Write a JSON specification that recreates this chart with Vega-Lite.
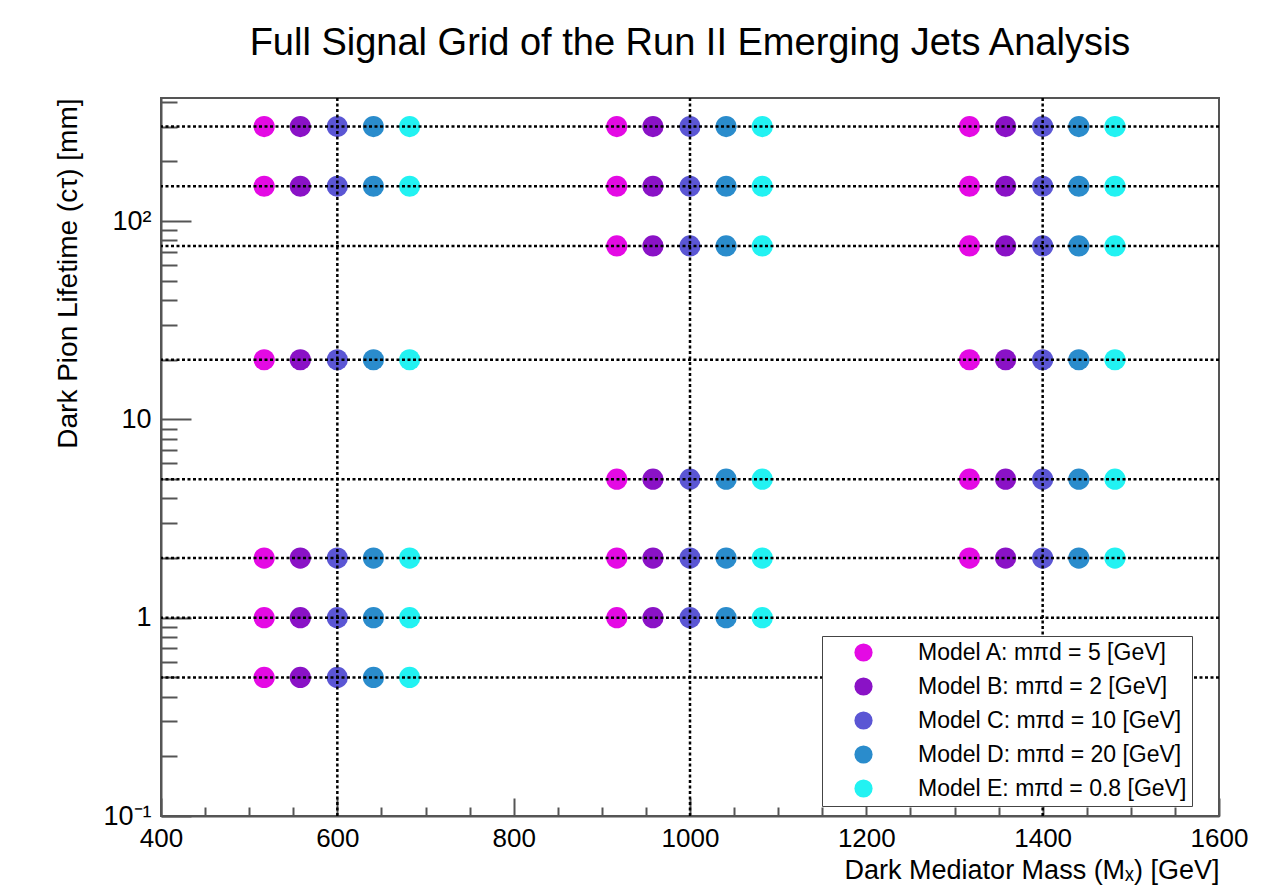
{
  "$schema": "https://vega.github.io/schema/vega-lite/v6.json",
  "width": 1058,
  "height": 718,
  "autosize": {"type": "none"},
  "padding": {"left": 161, "top": 98, "right": 46, "bottom": 80},
  "background": "white",
  "config": {
    "font": "Liberation Sans",
    "view": {"stroke": "#555555", "strokeWidth": 2},
    "title": {"font": "Liberation Sans", "fontSize": 38, "fontWeight": "normal", "color": "black", "anchor": "middle", "frame": "group", "offset": 25}
  },
  "title": "Full Signal Grid of the Run II Emerging Jets Analysis",
  "datasets": {
    "points": [
      {"model": "Model A: mπd = 5 [GeV]", "mass": 517, "ctau": 300},
      {"model": "Model B: mπd = 2 [GeV]", "mass": 558, "ctau": 300},
      {"model": "Model C: mπd = 10 [GeV]", "mass": 600, "ctau": 300},
      {"model": "Model D: mπd = 20 [GeV]", "mass": 641, "ctau": 300},
      {"model": "Model E: mπd = 0.8 [GeV]", "mass": 682, "ctau": 300},
      {"model": "Model A: mπd = 5 [GeV]", "mass": 517, "ctau": 150},
      {"model": "Model B: mπd = 2 [GeV]", "mass": 558, "ctau": 150},
      {"model": "Model C: mπd = 10 [GeV]", "mass": 600, "ctau": 150},
      {"model": "Model D: mπd = 20 [GeV]", "mass": 641, "ctau": 150},
      {"model": "Model E: mπd = 0.8 [GeV]", "mass": 682, "ctau": 150},
      {"model": "Model A: mπd = 5 [GeV]", "mass": 517, "ctau": 20},
      {"model": "Model B: mπd = 2 [GeV]", "mass": 558, "ctau": 20},
      {"model": "Model C: mπd = 10 [GeV]", "mass": 600, "ctau": 20},
      {"model": "Model D: mπd = 20 [GeV]", "mass": 641, "ctau": 20},
      {"model": "Model E: mπd = 0.8 [GeV]", "mass": 682, "ctau": 20},
      {"model": "Model A: mπd = 5 [GeV]", "mass": 517, "ctau": 2},
      {"model": "Model B: mπd = 2 [GeV]", "mass": 558, "ctau": 2},
      {"model": "Model C: mπd = 10 [GeV]", "mass": 600, "ctau": 2},
      {"model": "Model D: mπd = 20 [GeV]", "mass": 641, "ctau": 2},
      {"model": "Model E: mπd = 0.8 [GeV]", "mass": 682, "ctau": 2},
      {"model": "Model A: mπd = 5 [GeV]", "mass": 517, "ctau": 1},
      {"model": "Model B: mπd = 2 [GeV]", "mass": 558, "ctau": 1},
      {"model": "Model C: mπd = 10 [GeV]", "mass": 600, "ctau": 1},
      {"model": "Model D: mπd = 20 [GeV]", "mass": 641, "ctau": 1},
      {"model": "Model E: mπd = 0.8 [GeV]", "mass": 682, "ctau": 1},
      {"model": "Model A: mπd = 5 [GeV]", "mass": 517, "ctau": 0.5},
      {"model": "Model B: mπd = 2 [GeV]", "mass": 558, "ctau": 0.5},
      {"model": "Model C: mπd = 10 [GeV]", "mass": 600, "ctau": 0.5},
      {"model": "Model D: mπd = 20 [GeV]", "mass": 641, "ctau": 0.5},
      {"model": "Model E: mπd = 0.8 [GeV]", "mass": 682, "ctau": 0.5},
      {"model": "Model A: mπd = 5 [GeV]", "mass": 917, "ctau": 300},
      {"model": "Model B: mπd = 2 [GeV]", "mass": 958, "ctau": 300},
      {"model": "Model C: mπd = 10 [GeV]", "mass": 1000, "ctau": 300},
      {"model": "Model D: mπd = 20 [GeV]", "mass": 1041, "ctau": 300},
      {"model": "Model E: mπd = 0.8 [GeV]", "mass": 1082, "ctau": 300},
      {"model": "Model A: mπd = 5 [GeV]", "mass": 917, "ctau": 150},
      {"model": "Model B: mπd = 2 [GeV]", "mass": 958, "ctau": 150},
      {"model": "Model C: mπd = 10 [GeV]", "mass": 1000, "ctau": 150},
      {"model": "Model D: mπd = 20 [GeV]", "mass": 1041, "ctau": 150},
      {"model": "Model E: mπd = 0.8 [GeV]", "mass": 1082, "ctau": 150},
      {"model": "Model A: mπd = 5 [GeV]", "mass": 917, "ctau": 75},
      {"model": "Model B: mπd = 2 [GeV]", "mass": 958, "ctau": 75},
      {"model": "Model C: mπd = 10 [GeV]", "mass": 1000, "ctau": 75},
      {"model": "Model D: mπd = 20 [GeV]", "mass": 1041, "ctau": 75},
      {"model": "Model E: mπd = 0.8 [GeV]", "mass": 1082, "ctau": 75},
      {"model": "Model A: mπd = 5 [GeV]", "mass": 917, "ctau": 5},
      {"model": "Model B: mπd = 2 [GeV]", "mass": 958, "ctau": 5},
      {"model": "Model C: mπd = 10 [GeV]", "mass": 1000, "ctau": 5},
      {"model": "Model D: mπd = 20 [GeV]", "mass": 1041, "ctau": 5},
      {"model": "Model E: mπd = 0.8 [GeV]", "mass": 1082, "ctau": 5},
      {"model": "Model A: mπd = 5 [GeV]", "mass": 917, "ctau": 2},
      {"model": "Model B: mπd = 2 [GeV]", "mass": 958, "ctau": 2},
      {"model": "Model C: mπd = 10 [GeV]", "mass": 1000, "ctau": 2},
      {"model": "Model D: mπd = 20 [GeV]", "mass": 1041, "ctau": 2},
      {"model": "Model E: mπd = 0.8 [GeV]", "mass": 1082, "ctau": 2},
      {"model": "Model A: mπd = 5 [GeV]", "mass": 917, "ctau": 1},
      {"model": "Model B: mπd = 2 [GeV]", "mass": 958, "ctau": 1},
      {"model": "Model C: mπd = 10 [GeV]", "mass": 1000, "ctau": 1},
      {"model": "Model D: mπd = 20 [GeV]", "mass": 1041, "ctau": 1},
      {"model": "Model E: mπd = 0.8 [GeV]", "mass": 1082, "ctau": 1},
      {"model": "Model A: mπd = 5 [GeV]", "mass": 1317, "ctau": 300},
      {"model": "Model B: mπd = 2 [GeV]", "mass": 1358, "ctau": 300},
      {"model": "Model C: mπd = 10 [GeV]", "mass": 1400, "ctau": 300},
      {"model": "Model D: mπd = 20 [GeV]", "mass": 1441, "ctau": 300},
      {"model": "Model E: mπd = 0.8 [GeV]", "mass": 1482, "ctau": 300},
      {"model": "Model A: mπd = 5 [GeV]", "mass": 1317, "ctau": 150},
      {"model": "Model B: mπd = 2 [GeV]", "mass": 1358, "ctau": 150},
      {"model": "Model C: mπd = 10 [GeV]", "mass": 1400, "ctau": 150},
      {"model": "Model D: mπd = 20 [GeV]", "mass": 1441, "ctau": 150},
      {"model": "Model E: mπd = 0.8 [GeV]", "mass": 1482, "ctau": 150},
      {"model": "Model A: mπd = 5 [GeV]", "mass": 1317, "ctau": 75},
      {"model": "Model B: mπd = 2 [GeV]", "mass": 1358, "ctau": 75},
      {"model": "Model C: mπd = 10 [GeV]", "mass": 1400, "ctau": 75},
      {"model": "Model D: mπd = 20 [GeV]", "mass": 1441, "ctau": 75},
      {"model": "Model E: mπd = 0.8 [GeV]", "mass": 1482, "ctau": 75},
      {"model": "Model A: mπd = 5 [GeV]", "mass": 1317, "ctau": 20},
      {"model": "Model B: mπd = 2 [GeV]", "mass": 1358, "ctau": 20},
      {"model": "Model C: mπd = 10 [GeV]", "mass": 1400, "ctau": 20},
      {"model": "Model D: mπd = 20 [GeV]", "mass": 1441, "ctau": 20},
      {"model": "Model E: mπd = 0.8 [GeV]", "mass": 1482, "ctau": 20},
      {"model": "Model A: mπd = 5 [GeV]", "mass": 1317, "ctau": 5},
      {"model": "Model B: mπd = 2 [GeV]", "mass": 1358, "ctau": 5},
      {"model": "Model C: mπd = 10 [GeV]", "mass": 1400, "ctau": 5},
      {"model": "Model D: mπd = 20 [GeV]", "mass": 1441, "ctau": 5},
      {"model": "Model E: mπd = 0.8 [GeV]", "mass": 1482, "ctau": 5},
      {"model": "Model A: mπd = 5 [GeV]", "mass": 1317, "ctau": 2},
      {"model": "Model B: mπd = 2 [GeV]", "mass": 1358, "ctau": 2},
      {"model": "Model C: mπd = 10 [GeV]", "mass": 1400, "ctau": 2},
      {"model": "Model D: mπd = 20 [GeV]", "mass": 1441, "ctau": 2},
      {"model": "Model E: mπd = 0.8 [GeV]", "mass": 1482, "ctau": 2}
    ],
    "hgrid": [
      {"ctau": 300}, {"ctau": 150}, {"ctau": 75}, {"ctau": 20},
      {"ctau": 5}, {"ctau": 2}, {"ctau": 1}, {"ctau": 0.5}
    ],
    "vgrid": [
      {"mass": 600}, {"mass": 1000}, {"mass": 1400}
    ]
  },
  "layer": [
    {
      "data": {"name": "points"},
      "mark": {"type": "circle", "size": 450, "opacity": 1},
      "encoding": {
        "x": {
          "field": "mass", "type": "quantitative",
          "scale": {"domain": [400, 1600], "nice": false, "zero": false},
          "axis": {
            "title": "Dark Mediator Mass (Mₓ) [GeV]",
            "titleAnchor": "end",
            "titleFontSize": 27,
            "titleFontWeight": "normal",
            "titleColor": "black",
            "titleFont": "Liberation Sans",
            "titlePadding": -3,
            "values": [400,450,500,550,600,650,700,750,800,850,900,950,1000,1050,1100,1150,1200,1250,1300,1350,1400,1450,1500,1550,1600],
            "labelExpr": "datum.value % 200 == 0 ? datum.label : ''",
            "format": "d",
            "labelFontSize": 26,
            "labelFont": "Liberation Sans",
            "labelColor": "black",
            "labelFlush": false,
            "labelOverlap": false,
            "labelPadding": 27,
            "grid": false,
            "domainColor": "#555555",
            "domainWidth": 2,
            "tickColor": "#555555",
            "tickWidth": 2,
            "tickSize": {"condition": {"test": "datum.value % 200 == 0", "value": -18}, "value": -9}
          }
        },
        "y": {
          "field": "ctau", "type": "quantitative",
          "scale": {"type": "log", "domain": [0.1, 418], "nice": false},
          "axis": {
            "title": "Dark Pion Lifetime (cτ) [mm]",
            "titleAnchor": "end",
            "titleFontSize": 28,
            "titleFontWeight": "normal",
            "titleColor": "black",
            "titleFont": "Liberation Sans",
            "titlePadding": 20,
            "values": [0.1,0.2,0.3,0.4,0.5,0.6,0.7,0.8,0.9,1,2,3,4,5,6,7,8,9,10,20,30,40,50,60,70,80,90,100,200,300,400],
            "labelExpr": "datum.value == 0.1 ? '10⁻¹' : datum.value == 1 ? '1' : datum.value == 10 ? '10' : datum.value == 100 ? '10²' : ''",
            "labelFontSize": 27,
            "labelFont": "Liberation Sans",
            "labelColor": "black",
            "labelFlush": false,
            "labelOverlap": false,
            "labelPadding": 40,
            "grid": false,
            "domainColor": "#555555",
            "domainWidth": 2,
            "tickColor": "#555555",
            "tickWidth": 2,
            "tickSize": {"condition": {"test": "datum.value == 0.1 || datum.value == 1 || datum.value == 10 || datum.value == 100", "value": -30}, "value": -16}
          }
        },
        "color": {
          "field": "model", "type": "nominal",
          "scale": {
            "domain": ["Model A: mπd = 5 [GeV]", "Model B: mπd = 2 [GeV]", "Model C: mπd = 10 [GeV]", "Model D: mπd = 20 [GeV]", "Model E: mπd = 0.8 [GeV]"],
            "range": ["#e40ae4", "#8a12c6", "#5b56d4", "#2a8ccc", "#22f2f2"]
          },
          "legend": {
            "orient": "none",
            "legendX": 661,
            "legendY": 538,
            "title": null,
            "padding": 5,
            "strokeColor": "#444444",
            "fillColor": "white",
            "symbolType": "circle",
            "symbolSize": 330,
            "symbolOffset": 25,
            "symbolStrokeWidth": 0,
            "labelFontSize": 23,
            "labelFont": "Liberation Sans",
            "labelColor": "black",
            "labelOffset": 43,
            "labelLimit": 400,
            "rowPadding": 10
          }
        }
      }
    },
    {
      "data": {"name": "hgrid"},
      "mark": {"type": "rule", "color": "black", "strokeWidth": 2.5, "strokeDash": [3, 2.5]},
      "encoding": {
        "y": {"field": "ctau", "type": "quantitative"}
      }
    },
    {
      "data": {"name": "vgrid"},
      "mark": {"type": "rule", "color": "black", "strokeWidth": 2.5, "strokeDash": [3, 2.5]},
      "encoding": {
        "x": {"field": "mass", "type": "quantitative"}
      }
    }
  ]
}
